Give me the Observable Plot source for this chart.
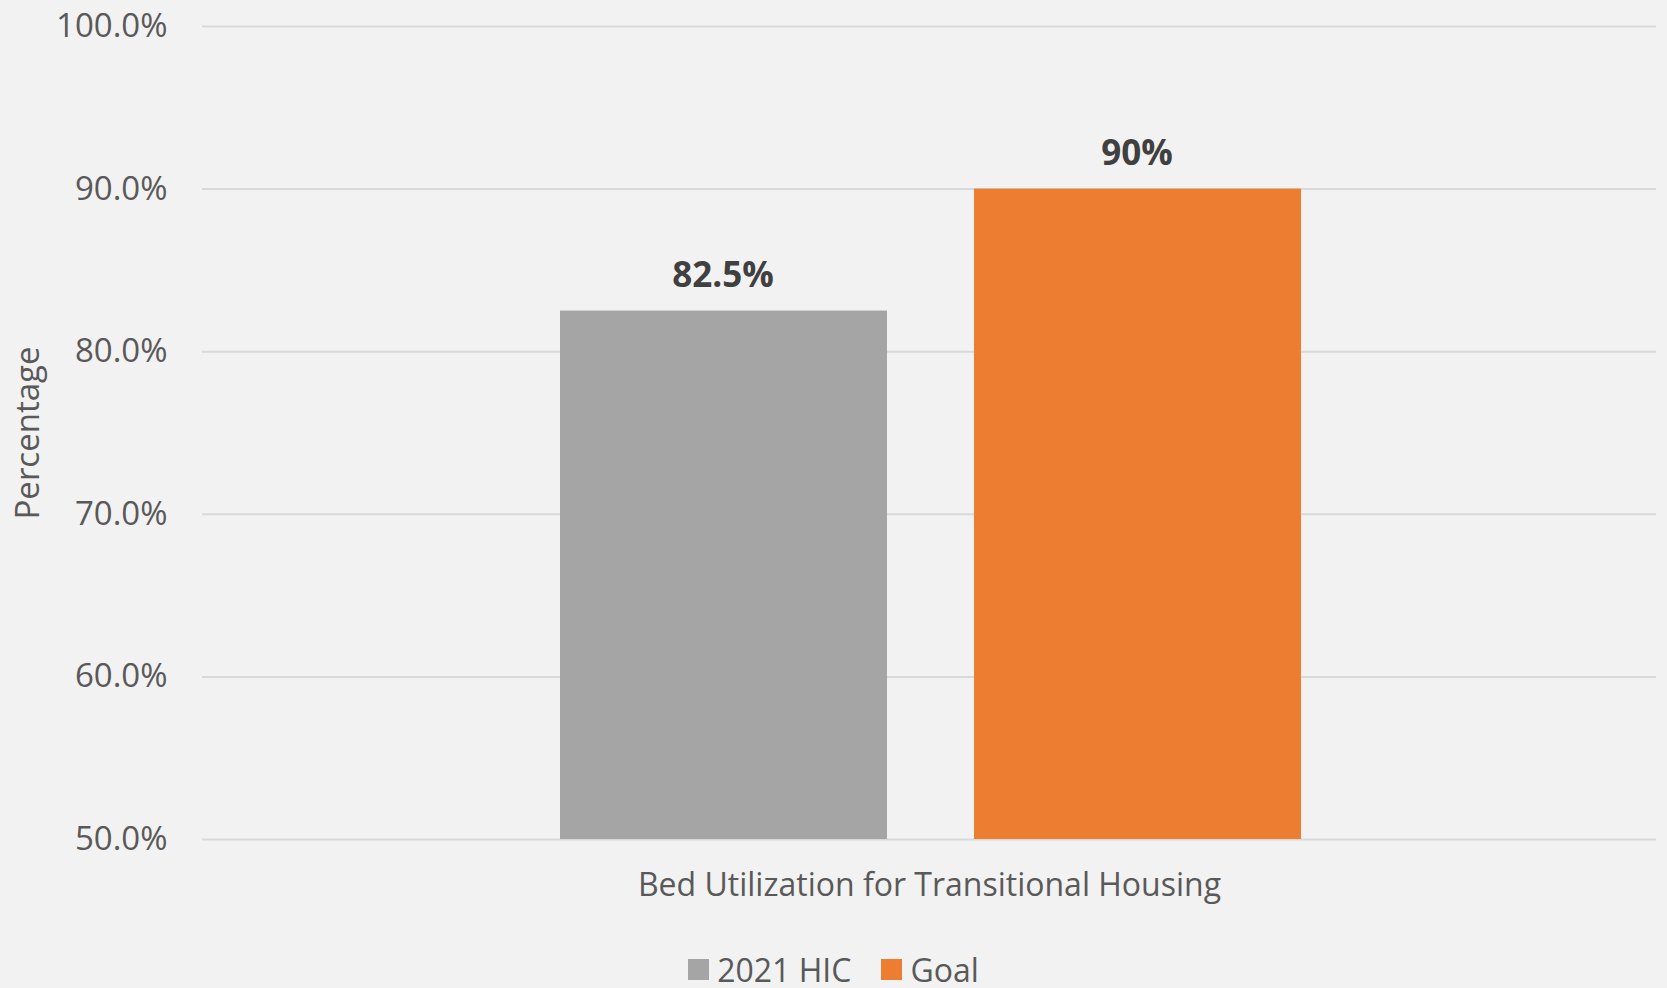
<!DOCTYPE html>
<html>
<head>
<meta charset="utf-8">
<script src="https://cdn.jsdelivr.net/npm/d3@7"></script>
<script src="https://cdn.jsdelivr.net/npm/@observablehq/plot@0.6"></script>
<style>
  html, body { margin: 0; padding: 0; background: #f2f2f2; overflow: hidden; }
  body { width: 1667px; height: 988px; font-family: "Open Sans", sans-serif; }
  #legend { display: flex; justify-content: center; align-items: center; gap: 30px;
            margin-top: 18px; height: 42px; font-size: 32px; color: #595959; }
  #legend .item { display: flex; align-items: center; }
  #legend .sw { width: 21px; height: 21px; margin-right: 8px; }
</style>
</head>
<body>
<div id="chart"></div>
<div id="legend"></div>
<script>
const category = "Bed Utilization for Transitional Housing";
const series = ["2021 HIC", "Goal"];
const values = [0.825, 0.90];
const labels = ["82.5%", "90%"];
const colors = ["#a5a5a5", "#ed7d31"];
const yTicks = [0.5, 0.6, 0.7, 0.8, 0.9, 1.0];

const data = series.map((s, i) => ({category, series: s, value: values[i], label: labels[i]}));

const W = 1667, H = 930;
const chart = Plot.plot({
  width: W,
  height: H,
  marginTop: 26,
  marginBottom: 91,
  marginLeft: 202,
  marginRight: 11,
  style: {background: "#f2f2f2", fontFamily: "Open Sans, sans-serif", color: "#595959"},
  fx: {domain: [category], padding: 0},
  x: {domain: series, paddingInner: 0.21, paddingOuter: 0.86},
  y: {domain: [0.5, 1.0]},
  color: {domain: series, range: colors},
  marks: [
    Plot.ruleY(yTicks, {stroke: "#d9d9d9", strokeWidth: 2}),
    Plot.barY(data, {fx: "category", x: "series", y1: 0.5, y2: "value", fill: "series", dx: 2}),
    Plot.text(data, {fx: "category", x: "series", y: "value", text: "label", dy: -35, dx: 1,
      fontWeight: "bold", fontSize: 35, fill: "#404040"}),
    Plot.axisY({ticks: yTicks, tickFormat: d3.format(".1%"), tickSize: 0, tickPadding: 35,
      fontSize: 33, label: "Percentage", labelAnchor: "center", labelOffset: 187, labelArrow: "none"}),
    Plot.axisFx({anchor: "bottom", tickSize: 0, tickPadding: 34, fontSize: 32, label: null}),
    Plot.axisX({ticks: [], label: null})
  ]
});
document.getElementById("chart").appendChild(chart);

const legend = document.getElementById("legend");
series.forEach((s, i) => {
  const item = document.createElement("div");
  item.className = "item";
  const sw = document.createElement("div");
  sw.className = "sw";
  sw.style.background = colors[i];
  const t = document.createElement("span");
  t.textContent = s;
  item.appendChild(sw);
  item.appendChild(t);
  legend.appendChild(item);
});
</script>
</body>
</html>
